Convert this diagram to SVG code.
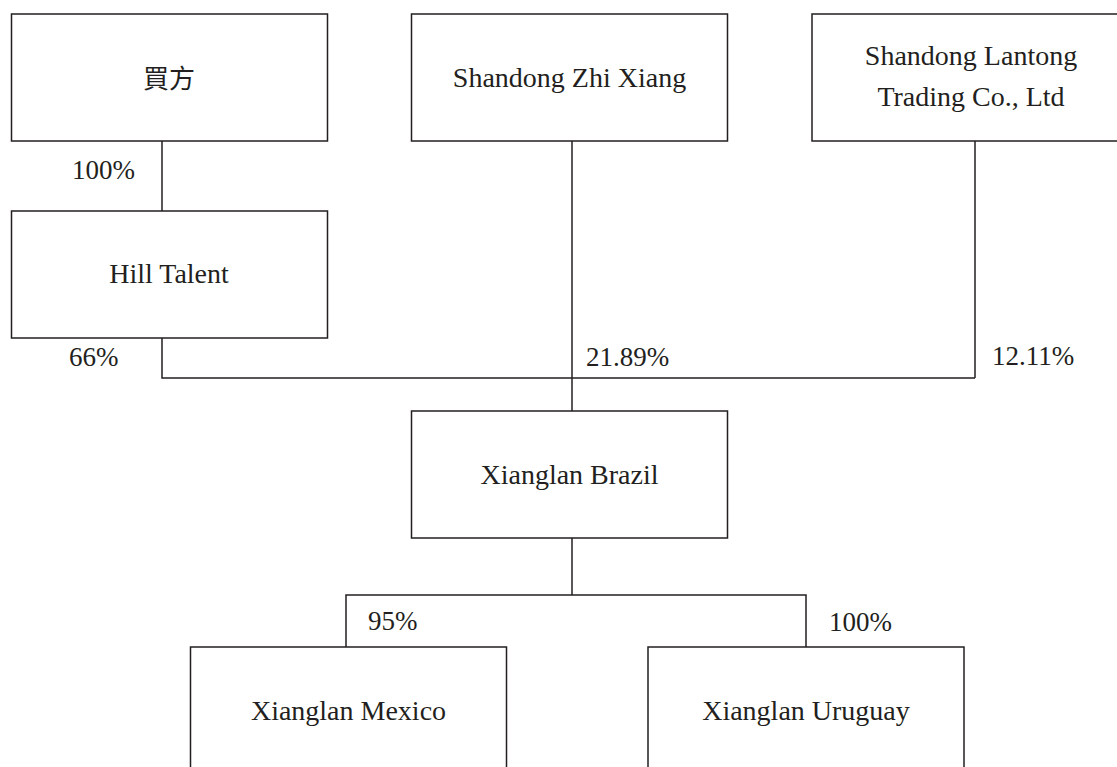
<svg xmlns="http://www.w3.org/2000/svg" width="1117" height="767" viewBox="0 0 1117 767">
<style>
.box{fill:#fff;stroke:#231f20;stroke-width:1.5}
.lbl{font-family:"Liberation Serif","Times New Roman",serif;font-size:28px;fill:#231f20;text-anchor:middle}
.cjk{font-family:"Liberation Serif","Noto Sans CJK TC",serif;font-size:26px;fill:#231f20;text-anchor:middle}
.pct{font-family:"Liberation Serif","Times New Roman",serif;font-size:27px;fill:#231f20}
.con{fill:none;stroke:#231f20;stroke-width:1.5}
</style>
<rect width="1117" height="767" fill="#fff"/>
<g id="connectors">
<path class="con" d="M162,141 V211"/>
<path class="con" d="M162,338 V378 H975"/>
<path class="con" d="M975,141 V378"/>
<path class="con" d="M572,141 V411"/>
<path class="con" d="M572,538 V595"/>
<path class="con" d="M346,647 V595 H806 V647"/>
<text class="pct" x="72" y="179">100%</text>
<text class="pct" x="69" y="366">66%</text>
<text class="pct" x="586" y="366">21.89%</text>
<text class="pct" x="992" y="365">12.11%</text>
<text class="pct" x="368" y="630">95%</text>
<text class="pct" x="829" y="631">100%</text>
</g>
<g id="buyer">
<rect class="box" x="11.5" y="14" width="316" height="127"/>
<text class="cjk" x="169" y="88">買方</text>
</g>
<g id="zhixiang">
<rect class="box" x="411.5" y="14" width="316" height="127"/>
<text class="lbl" x="569.5" y="87">Shandong Zhi Xiang</text>
</g>
<g id="lantong">
<rect class="box" x="812" y="14" width="318" height="127"/>
<text class="lbl" x="971" y="65">Shandong Lantong</text>
<text class="lbl" x="971" y="106">Trading Co., Ltd</text>
</g>
<g id="hilltalent">
<rect class="box" x="11.5" y="211" width="316" height="127"/>
<text class="lbl" x="169" y="283">Hill Talent</text>
</g>
<g id="brazil">
<rect class="box" x="411.5" y="411" width="316" height="127"/>
<text class="lbl" x="569.5" y="484">Xianglan Brazil</text>
</g>
<g id="mexico">
<rect class="box" x="190.5" y="647" width="316" height="140"/>
<text class="lbl" x="348.5" y="720">Xianglan Mexico</text>
</g>
<g id="uruguay">
<rect class="box" x="648" y="647" width="316" height="140"/>
<text class="lbl" x="806" y="720">Xianglan Uruguay</text>
</g>
</svg>
